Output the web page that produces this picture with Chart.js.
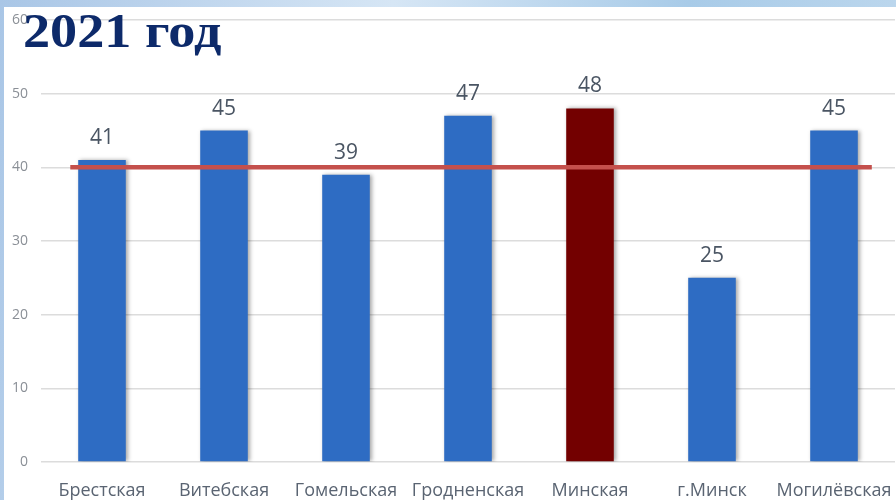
<!DOCTYPE html>
<html>
<head>
<meta charset="utf-8">
<script src="https://cdn.jsdelivr.net/npm/chart.js@4/dist/chart.umd.min.js"></script>
<style>
    html, body { margin: 0; padding: 0; }
    body {
        width: 896px; height: 500px; overflow: hidden; position: relative;
        background: linear-gradient(100deg, #a9c6e6 0%, #d6e6f5 40%, #a8cbe8 70%, #c3dbef 100%);
    }
    #panel {
        position: absolute; left: 4px; top: 7px; width: 892px; height: 493px;
        background: #ffffff;
    }
    #title {
        position: absolute; left: 23px; top: 7px; margin: 0;
        font-family: "Liberation Serif", "DejaVu Serif", serif;
        font-weight: bold; font-size: 48px; color: #0d2a6a; line-height: 1;
        transform: scaleX(1.13); transform-origin: left top;
    }
</style>
</head>
<body>
<div id="panel"><canvas id="chart" width="892" height="493"></canvas></div>
<h1 id="title">2021 год</h1>
<script>
var regions = ["Брестская", "Витебская", "Гомельская", "Гродненская", "Минская", "г.Минск", "Могилёвская"];
var values = [41, 45, 39, 47, 48, 25, 45];
var barColors = ["#2e6cc3", "#2e6cc3", "#2e6cc3", "#2e6cc3", "#730000", "#2e6cc3", "#2e6cc3"];
var threshold = 40;
var yTicks = [0, 10, 20, 30, 40, 50, 60];

// soft shadow on the right side of the bars
var barShadow = {
    id: "barShadow",
    beforeDatasetDraw: function (chart) {
        var ctx = chart.ctx;
        ctx.save();
        ctx.shadowColor = "rgba(0, 0, 0, 0.35)";
        ctx.shadowOffsetX = 2;
        ctx.shadowOffsetY = 0;
        ctx.shadowBlur = 4;
    },
    afterDatasetDraw: function (chart) {
        chart.ctx.restore();
    }
};

var valueLabels = {
    id: "valueLabels",
    afterDatasetsDraw: function (chart) {
        var ctx = chart.ctx;
        var meta = chart.getDatasetMeta(0);
        ctx.save();
        ctx.font = "21px 'Open Sans', sans-serif";
        ctx.fillStyle = "#4a5563";
        ctx.textAlign = "center";
        ctx.textBaseline = "alphabetic";
        meta.data.forEach(function (bar, i) {
            ctx.fillText(values[i], bar.x, bar.y - 16);
        });
        ctx.restore();
    }
};

var thresholdLine = {
    id: "thresholdLine",
    afterDatasetsDraw: function (chart) {
        var ctx = chart.ctx;
        var x = chart.scales.x, y = chart.scales.y;
        var step = x.getPixelForValue(1) - x.getPixelForValue(0);
        var py = y.getPixelForValue(threshold);
        ctx.save();
        ctx.strokeStyle = "#c4504c";
        ctx.lineWidth = 4.5;
        ctx.beginPath();
        ctx.moveTo(x.getPixelForValue(0) - step * 0.26, py);
        ctx.lineTo(x.getPixelForValue(regions.length - 1) + step * 0.31, py);
        ctx.stroke();
        ctx.restore();
    }
};

new Chart(document.getElementById("chart").getContext("2d"), {
    type: "bar",
    data: {
        labels: regions,
        datasets: [{
            data: values,
            backgroundColor: barColors,
            borderWidth: 0,
            categoryPercentage: 1,
            barPercentage: 0.39
        }]
    },
    options: {
        responsive: false,
        animation: false,
        layout: { padding: { top: 13, right: 1, left: 0, bottom: 0 } },
        plugins: {
            legend: { display: false },
            tooltip: { enabled: false }
        },
        scales: {
            x: {
                afterFit: function (s) {
                    s.height = 38;
                    s.paddingLeft = 0;
                    s.paddingRight = 0;
                },
                grid: { display: false },
                border: { display: false },
                ticks: {
                    color: "#5a6472",
                    font: { family: "'Open Sans', sans-serif", size: 18 },
                    padding: 10,
                    maxRotation: 0,
                    autoSkip: false
                }
            },
            y: {
                min: 0,
                max: 60,
                afterBuildTicks: function (s) {
                    s.ticks = yTicks.map(function (v) { return { value: v }; });
                },
                afterFit: function (s) {
                    s.width = 37;
                    s.paddingTop = 0;
                    s.paddingBottom = 0;
                },
                grid: { color: "#dcdcdc", lineWidth: 1.5, drawTicks: false },
                border: { display: false },
                ticks: {
                    color: "#8a8f96",
                    font: { family: "'Open Sans', sans-serif", size: 14 },
                    padding: 13
                }
            }
        }
    },
    plugins: [barShadow, valueLabels, thresholdLine]
});
</script>
</body>
</html>
